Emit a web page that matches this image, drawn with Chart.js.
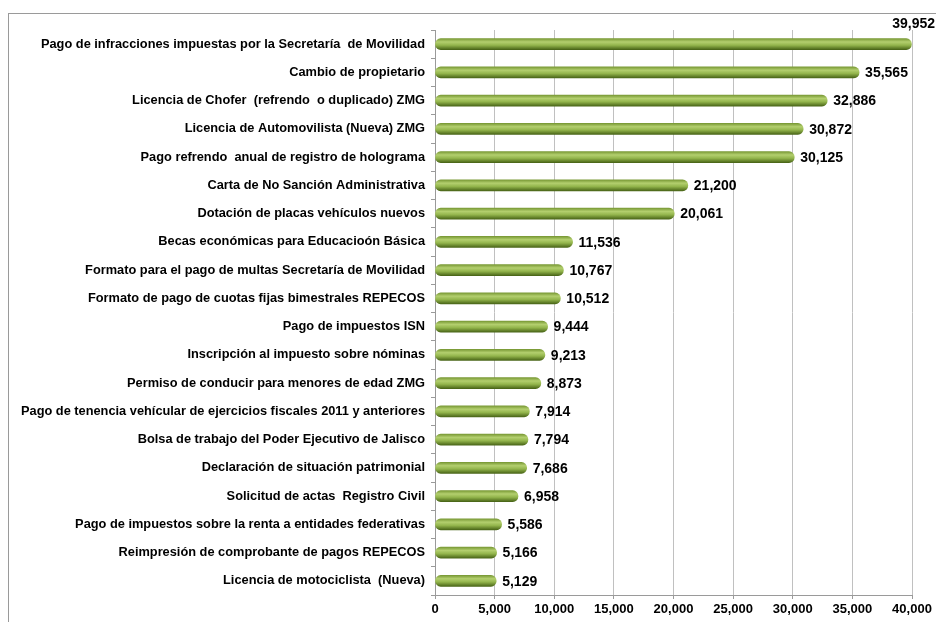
<!DOCTYPE html>
<html>
<head>
<meta charset="utf-8">
<script src="https://cdn.jsdelivr.net/npm/chart.js@4"></script>
<style>
  html, body { margin: 0; padding: 0; background: #fff; }
  #wrap { width: 936px; height: 622px; position: relative; }
</style>
</head>
<body>
<div id="wrap"><canvas id="grafico"></canvas></div>
<script>
const tramites = [
  'Pago de infracciones impuestas por la Secretaría  de Movilidad',
  'Cambio de propietario',
  'Licencia de Chofer  (refrendo  o duplicado) ZMG',
  'Licencia de Automovilista (Nueva) ZMG',
  'Pago refrendo  anual de registro de holograma',
  'Carta de No Sanción Administrativa',
  'Dotación de placas vehículos nuevos',
  'Becas económicas para Educacioón Básica',
  'Formato para el pago de multas Secretaría de Movilidad',
  'Formato de pago de cuotas fijas bimestrales REPECOS',
  'Pago de impuestos ISN',
  'Inscripción al impuesto sobre nóminas',
  'Permiso de conducir para menores de edad ZMG',
  'Pago de tenencia vehícular de ejercicios fiscales 2011 y anteriores',
  'Bolsa de trabajo del Poder Ejecutivo de Jalisco',
  'Declaración de situación patrimonial',
  'Solicitud de actas  Registro Civil',
  'Pago de impuestos sobre la renta a entidades federativas',
  'Reimpresión de comprobante de pagos REPECOS',
  'Licencia de motociclista  (Nueva)'
];
const cantidades = [39952, 35565, 32886, 30872, 30125, 21200, 20061, 11536, 10767, 10512,
                    9444, 9213, 8873, 7914, 7794, 7686, 6958, 5586, 5166, 5129];

const fuente = '"Liberation Sans", Arial, sans-serif';
const grosor = 11;

// degradado tipo cilindro para cada barra
function colorBarra(ctx) {
    const chart = ctx.chart;
    if (!chart.chartArea || ctx.dataIndex === undefined) return '#8aad45';
    const yc = chart.scales.y.getPixelForValue(ctx.dataIndex);
    const g = chart.ctx.createLinearGradient(0, yc - grosor / 2, 0, yc + grosor / 2);
    g.addColorStop(0, '#7a9a36');
    g.addColorStop(0.3, '#b3cf6e');
    g.addColorStop(0.6, '#93b54c');
    g.addColorStop(1, '#4a6618');
    return g;
}

const marco = {
    id: 'marco',
    beforeDraw(chart) {
        const c = chart.ctx;
        c.save();
        c.strokeStyle = '#9a9a9a';
        c.lineWidth = 1;
        c.strokeRect(8.5, 13.5, 1000, 700);
        c.restore();
    }
};

const etiquetas = {
    id: 'etiquetas',
    afterDatasetsDraw(chart) {
        const c = chart.ctx;
        const meta = chart.getDatasetMeta(0);
        c.save();
        c.font = 'bold 14px ' + fuente;
        c.fillStyle = '#000';
        c.textBaseline = 'middle';
        meta.data.forEach((bar, i) => {
            const txt = cantidades[i].toLocaleString('en-US');
            if (i === 0) {
                c.textAlign = 'right';
                c.fillText(txt, 935, bar.y - 20);
            } else {
                c.textAlign = 'left';
                c.fillText(txt, bar.x + 6, bar.y + 1);
            }
        });
        c.restore();
    }
};

new Chart('grafico', {
    type: 'bar',
    data: {
        labels: tramites,
        datasets: [{
            data: cantidades,
            backgroundColor: colorBarra,
            borderWidth: 0,
            borderRadius: 6,
            borderSkipped: false,
            barThickness: grosor
        }]
    },
    options: {
        indexAxis: 'y',
        responsive: true,
        maintainAspectRatio: false,
        animation: false,
        layout: { padding: { left: 0, right: 24, top: 30, bottom: 0 } },
        plugins: {
            legend: { display: false },
            tooltip: { enabled: false }
        },
        scales: {
            x: {
                min: 0,
                max: 40000,
                ticks: {
                    stepSize: 5000,
                    color: '#000',
                    font: { family: fuente, size: 13, weight: 'bold' },
                    padding: 3,
                    callback: v => v.toLocaleString('en-US')
                },
                grid: { color: '#c0c0c0', tickLength: 4, tickColor: '#9a9a9a' },
                border: { color: '#9a9a9a' },
                afterFit: s => { s.height = 27; }
            },
            y: {
                ticks: {
                    color: '#000',
                    font: { family: fuente, size: 12.8, weight: 'bold' },
                    padding: 6
                },
                grid: { drawOnChartArea: false, tickLength: 4, tickColor: '#9a9a9a', offset: true },
                border: { color: '#9a9a9a' },
                afterFit: s => { s.width = 435; }
            }
        }
    },
    plugins: [marco, etiquetas]
});
</script>
</body>
</html>
